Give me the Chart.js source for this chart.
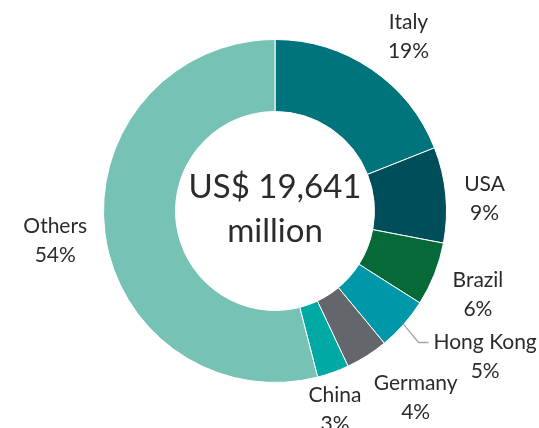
<!DOCTYPE html>
<html>
<head>
<meta charset="utf-8">
<script src="https://cdn.jsdelivr.net/npm/chart.js@4/dist/chart.umd.min.js"></script>
<style>
  html, body { margin: 0; padding: 0; background: #ffffff; }
  #wrap { width: 539px; height: 428px; position: relative; }
</style>
</head>
<body>
<div id="wrap"><canvas id="chart"></canvas></div>
<script>
// Export destinations, share of total (%)
const countries = ['Italy', 'USA', 'Brazil', 'Hong Kong', 'Germany', 'China', 'Others'];
const shares = [19, 9, 6, 5, 4, 3, 54];
const sliceColors = ['#00747c', '#004e59', '#066a38', '#0097a9', '#63666a', '#00a9a3', '#76c3b6'];
const centerLines = ['US$ 19,641', 'million'];

// Label placement: gap beyond the ring along each slice's mid-angle, plus a small nudge
const labelGap = 50;
const labelNudge = [[9, 7], [-11, 7], [-3, 0], [44, -2], [22, -2], [-15, -11], [0, 0]];
const leaderFor = [false, false, false, true, false, false, false];

const FONT = 'Lato, "Open Sans", sans-serif';
const TEXT = '#2b2b2b';

const labelPlugin = {
  id: 'sliceLabels',
  afterDatasetsDraw(chart) {
    const ctx = chart.ctx;
    const meta = chart.getDatasetMeta(0);
    ctx.save();
    ctx.fillStyle = TEXT;
    ctx.textAlign = 'center';
    ctx.textBaseline = 'alphabetic';
    ctx.font = '21px ' + FONT;
    meta.data.forEach((arc, i) => {
      const p = arc.getProps(['x', 'y', 'startAngle', 'endAngle', 'outerRadius'], true);
      const mid = (p.startAngle + p.endAngle) / 2;
      const r = p.outerRadius + labelGap;
      const ax = p.x + Math.cos(mid) * r + labelNudge[i][0];
      const ay = p.y + Math.sin(mid) * r + labelNudge[i][1];
      const name = chart.data.labels[i];
      const pct = chart.data.datasets[0].data[i] + '%';
      if (leaderFor[i]) {
        const ex = p.x + Math.cos(mid) * p.outerRadius;
        const ey = p.y + Math.sin(mid) * p.outerRadius;
        const w = ctx.measureText(name).width;
        const lx = ax - w / 2 - 5;
        const ly = ay - 13;
        ctx.save();
        ctx.strokeStyle = '#a6a6a6';
        ctx.lineWidth = 1.3;
        ctx.beginPath();
        ctx.moveTo(ex, ey);
        ctx.lineTo(lx - 10, ly);
        ctx.lineTo(lx, ly);
        ctx.stroke();
        ctx.restore();
      }
      ctx.fillText(name, ax, ay - 6);
      ctx.fillText(pct, ax, ay + 23);
    });
    // Total in the hole
    const c = meta.data[0];
    ctx.font = '33px ' + FONT;
    ctx.fillText(centerLines[0], c.x, c.y - 13);
    ctx.fillText(centerLines[1], c.x, c.y + 31);
    ctx.restore();
  }
};

new Chart(document.getElementById('chart'), {
  type: 'doughnut',
  data: {
    labels: countries,
    datasets: [{
      data: shares,
      backgroundColor: sliceColors,
      borderColor: '#ffffff',
      borderWidth: 1
    }]
  },
  options: {
    responsive: true,
    maintainAspectRatio: false,
    animation: false,
    cutout: '58%',
    layout: { padding: { left: 103, right: 92, top: 39, bottom: 45 } },
    plugins: {
      legend: { display: false },
      tooltip: { enabled: false }
    }
  },
  plugins: [labelPlugin]
});
</script>
</body>
</html>
